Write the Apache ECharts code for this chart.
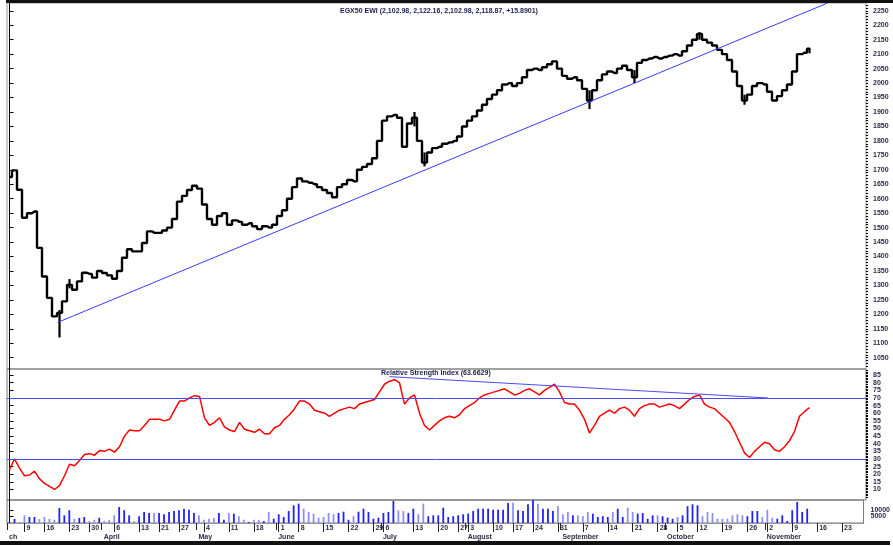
<!DOCTYPE html>
<html>
<head>
<meta charset="utf-8">
<script src="https://cdn.jsdelivr.net/npm/echarts@6/dist/echarts.min.js"></script>
<style>
html, body { margin: 0; padding: 0; background: #fff; }
#main { width: 893px; height: 546px; }
</style>
</head>
<body>
<div id="main"></div>
<script>
// daily closes, one per trading day
var closes = [
    1675, 1698, 1631, 1534, 1550, 1556, 1430, 1331, 1257, 1193,
    1205, 1245, 1302, 1285, 1314, 1344, 1340, 1327, 1350, 1343,
    1335, 1323, 1350, 1396, 1425, 1418, 1418, 1447, 1487, 1482,
    1482, 1490, 1500, 1530, 1590, 1610, 1630, 1645, 1635, 1580,
    1530, 1510, 1540, 1550, 1510, 1525, 1520, 1510, 1515, 1505,
    1495, 1505, 1500, 1510, 1540, 1560, 1600, 1640, 1670, 1660,
    1655, 1650, 1640, 1630, 1620, 1605, 1640, 1650, 1665, 1660,
    1700, 1710, 1720, 1740, 1800, 1870, 1885, 1890, 1880, 1780,
    1860, 1880, 1800, 1725, 1760, 1775, 1780, 1790, 1795, 1800,
    1815, 1850, 1870, 1885, 1905, 1925, 1945, 1960, 1975, 1995,
    2000, 1990, 2000, 2020, 2045, 2050, 2045, 2055, 2065, 2075,
    2050, 2025, 2015, 2020, 2010, 1980, 1940, 1975, 2010, 2030,
    2040, 2035, 2050, 2060, 2045, 2020, 2070, 2080, 2085, 2090,
    2085, 2090, 2095, 2100, 2095, 2110, 2130, 2150, 2170, 2150,
    2140, 2130, 2115, 2100, 2080, 2040, 1990, 1940, 1960, 1990,
    2000, 1995, 1970, 1940, 1955, 1975, 1995, 2040, 2100, 2105,
    2119
];

// days whose high/low sticks out of the step line: [day, low, high]
var ranges = [
    [10, 1120, 1215], [12, 1290, 1322], [81, 1850, 1900], [83, 1712, 1760],
    [116, 1910, 1975], [125, 2000, 2045], [138, 2150, 2176], [147, 1925, 1960],
    [160, 2103, 2122]
];

var rsi = [
    23, 30, 24, 19, 19.5, 22, 17, 14, 12, 10,
    12.5, 19, 26.5, 25.5, 29, 33, 33.5, 32.5, 35.5, 35,
    36.5, 34.5, 38, 45, 49, 48.5, 48.5, 52, 56, 56,
    56, 55, 56, 62, 68, 68, 70, 71.5, 71, 57,
    52, 54, 57, 51, 49, 48, 54, 49.5, 48.5, 47.5,
    49.5, 46.5, 46.5, 50.5, 52, 56, 59, 63, 68, 68,
    66, 62, 61, 60, 58, 60, 62, 63, 64, 63,
    66, 67, 68, 69, 74, 79, 81, 82, 80, 66,
    70, 72, 60, 52, 49, 52, 55, 57, 58, 57,
    59, 63, 65, 67, 70, 72, 73, 74, 75, 76,
    74, 72, 73, 75, 76, 74, 72, 75, 77, 79,
    74, 67, 66, 66, 62, 56, 47, 52, 58, 60,
    62, 60, 63, 64, 62, 58, 63, 65, 66, 66,
    64, 65, 66, 65, 63, 66, 69, 71, 72, 66,
    64, 63, 60, 57, 54, 48, 41, 34, 31, 35,
    38, 41, 40, 36, 35, 38, 42, 48, 58, 61,
    63.66
];

var volume = [
    800, 3100, 800, 5900, 4600, 4600, 3100, 4600, 3100, 2500,
    11600, 5900, 9800, 3300, 3900, 4600, 1500, 2500, 4100, 1500,
    2500, 5900, 12300, 9800, 5900, 1500, 5200, 8500, 7700, 7700,
    7700, 6700, 8500, 9200, 9800, 11000, 10200, 7700, 5900, 2500,
    3300, 3900, 7700, 2500, 7700, 7200, 5200, 2500, 800, 2500,
    2500, 1500, 8500, 3300, 6700, 4600, 9200, 13600, 14900,
    11000, 8500, 7200, 4100, 4600, 7700, 6700, 7700, 8700, 2500,
    5200, 8700, 11000, 8500, 3300, 4100, 7700, 8500, 16900, 9800,
    9200, 7700, 11000, 6700, 14900, 5200, 5900, 5900, 11800,
    4600, 5200, 5900, 6700, 7200, 9200, 11000, 11000, 11000, 10200,
    10200, 10200, 15400, 15600, 9800, 9200, 14400, 17900, 14900,
    11000, 11000, 9200, 12900, 6700, 8500, 5900, 5900, 5400, 8500,
    7200,
    4600, 5200, 4600, 8500, 11000, 4600, 11800, 8500, 7200, 7700,
    3300, 5900, 5900, 5200, 4100, 3300, 4600, 5900, 12900, 14400,
    13600, 5200, 8500, 7700, 3300, 3300, 3300, 5900, 6700, 5900,
    5200, 9200, 9200, 4600, 10200, 4100, 3300, 5900, 1500, 9800,
    16200, 8500, 11000
];

// first trading day of each week (day index) and its date
var weekTicks = [3, 7, 12, 16, 21, 26, 30, 34, 39, 44, 49, 54, 58, 63, 68, 73, 75, 81, 86, 90,
                 92, 97, 101, 105, 110, 115, 120, 125, 130, 134, 138, 143, 148, 152, 157, 162, 167];
var weekLabels = ['9', '16', '23', '30', '6', '13', '21', '27', '4', '11', '18', '1', '8', '15', '22', '29', '6', '13', '20', '27',
                  '3', '10', '17', '24', '31', '7', '14', '21', '28', '5', '12', '19', '26', '2', '9', '16', '23'];
var monthTicks = [-0.5, 18.5, 37.5, 53.5, 74.5, 91.5, 110.5, 131.5, 151.5];
var monthLabels = ['ch', 'April', 'May', 'June', 'July', 'August', 'September', 'October', 'November'];

var priceTicks = [1050, 1100, 1150, 1200, 1250, 1300, 1350, 1400, 1450, 1500, 1550, 1600, 1650,
                  1700, 1750, 1800, 1850, 1900, 1950, 2000, 2050, 2100, 2150, 2200, 2250];
var rsiTicks = [10, 15, 20, 25, 30, 35, 40, 45, 50, 55, 60, 65, 70, 75, 80, 85];
var volTicks = [10000];
var volTicksLow = [5000];
var rsiBands = [70, 30];

var priceTrend = [[9.6, 1172], [163.5, 2276]];
var rsiTrend = [[76, 84], [151.7, 70]];

var titleText = 'EGX50 EWI (2,102.98, 2,122.16, 2,102.98, 2,118.87, +15.8901)';
var rsiTitle = 'Relative Strength Index (63.6629)';

var myChart = echarts.init(document.getElementById('main'));

var xMin = -0.5, xMax = 171.3;
var labelFont = { fontSize: 7, fontWeight: 'bold', color: '#2b2b45', fontFamily: 'Liberation Sans' };

function minorTicks(from, to, step) {
    var out = [];
    for (var v = from; v <= to; v += step) out.push(v);
    return out;
}

function rightAxis(grid, min, max, ticks, showLabel) {
    return {
        gridIndex: grid,
        type: 'value',
        position: 'right',
        min: min,
        max: max,
        axisLine: { show: showLabel, lineStyle: { color: '#000', width: 1 } },
        axisTick: { show: true, customValues: ticks, length: showLabel ? 4 : 2, lineStyle: { color: '#000' } },
        axisLabel: Object.assign({
            show: showLabel, customValues: ticks, margin: 7, hideOverlap: false,
            formatter: function (v) { return String(v); }
        }, labelFont),
        splitLine: { show: false }
    };
}

var volData = volume.map(function (v, i) {
    var up = i === 0 || closes[i] >= closes[i - 1];
    return { value: [i, v], itemStyle: { color: up ? '#2222f5' : '#8f8ff5' } };
});

option = {
    animation: false,
    backgroundColor: '#fff',
    title: {
        text: titleText,
        left: 335,
        top: 3,
        textStyle: { fontSize: 7, fontWeight: 'bold', color: '#1c1c50', fontFamily: 'Liberation Sans' }
    },
    graphic: [
        { type: 'rect', shape: { x: 6, y: 0, width: 887, height: 3 }, style: { fill: '#111' } },
        { type: 'rect', shape: { x: 0, y: 541, width: 890, height: 4 }, style: { fill: '#111' } },
        { type: 'text', left: 381, top: 370, style: { text: rsiTitle, fontSize: 7, fontWeight: 'bold', fill: '#1c1c50', fontFamily: 'Liberation Sans' } }
    ],
    grid: [
        { left: 7, right: 27, top: 3, height: 366, show: true, borderColor: '#999', borderWidth: 1 },
        { left: 7, right: 27, top: 369, height: 131, show: true, borderColor: '#777', borderWidth: 1 },
        { left: 7, right: 27, top: 500, height: 23, show: true, borderColor: '#777', borderWidth: 1 }
    ],
    xAxis: [
        { gridIndex: 0, type: 'value', min: xMin, max: xMax, show: false },
        { gridIndex: 1, type: 'value', min: xMin, max: xMax, show: false },
        {
            gridIndex: 2, type: 'value', min: xMin, max: xMax,
            axisLine: { show: true, lineStyle: { color: '#999' } },
            axisTick: { customValues: weekTicks, length: 9, lineStyle: { color: '#222' } },
            axisLabel: Object.assign({
                customValues: weekTicks, margin: 2, align: 'left', padding: [0, 0, 0, 2], hideOverlap: false,
                formatter: function (v) {
                    var k = weekTicks.indexOf(v);
                    return k < 0 ? '' : weekLabels[k];
                }
            }, labelFont),
            splitLine: { show: false }
        },
        {
            gridIndex: 2, type: 'value', min: xMin, max: xMax, position: 'bottom', offset: 10,
            axisLine: { show: true, lineStyle: { color: '#999' } },
            axisTick: { customValues: monthTicks, length: 7, lineStyle: { color: '#222' } },
            axisLabel: Object.assign({
                customValues: monthTicks, margin: 1, align: 'left', padding: [0, 0, 0, 2], hideOverlap: false,
                formatter: function (v) {
                    var k = monthTicks.indexOf(v);
                    return k < 0 ? '' : monthLabels[k];
                }
            }, labelFont),
            splitLine: { show: false }
        }
    ],
    yAxis: [
        rightAxis(0, 1011, 2277, priceTicks, true),
        rightAxis(0, 1011, 2277, minorTicks(1020, 2270, 10), false),
        rightAxis(1, 3.1, 89, rsiTicks, true),
        rightAxis(1, 3.1, 89, minorTicks(5, 88, 1), false),
        rightAxis(2, 0, 17700, volTicks, true),
        rightAxis(2, 0, 17700, volTicksLow, true)
    ],
    series: [
        {
            name: 'EGX50 EWI',
            type: 'line',
            xAxisIndex: 0,
            yAxisIndex: 0,
            step: 'middle',
            showSymbol: false,
            lineStyle: { color: '#000', width: 2.4 },
            data: closes.map(function (v, i) { return [i, v]; }),
            markLine: {
                silent: true,
                symbol: 'none',
                label: { show: false },
                lineStyle: { color: '#3a3aff', width: 1, type: 'solid' },
                data: [[{ coord: priceTrend[0] }, { coord: priceTrend[1] }]]
            }
        },
        {
            name: 'Range',
            type: 'custom',
            xAxisIndex: 0,
            yAxisIndex: 0,
            encode: { x: 0, y: [1, 2] },
            renderItem: function (params, api) {
                var a = api.coord([api.value(0), api.value(1)]);
                var b = api.coord([api.value(0), api.value(2)]);
                return {
                    type: 'line',
                    shape: { x1: a[0], y1: a[1], x2: b[0], y2: b[1] },
                    style: { stroke: '#000', lineWidth: 2.2 }
                };
            },
            data: ranges
        },
        {
            name: 'RSI',
            type: 'line',
            xAxisIndex: 1,
            yAxisIndex: 2,
            showSymbol: false,
            lineStyle: { color: '#ff0000', width: 1.5 },
            data: rsi.map(function (v, i) { return [i, v]; }),
            markLine: {
                silent: true,
                symbol: 'none',
                label: { show: false },
                lineStyle: { color: '#4a4aff', width: 1, type: 'solid' },
                data: rsiBands.map(function (b) { return { yAxis: b }; }).concat([
                    [{ coord: rsiTrend[0] }, { coord: rsiTrend[1] }]
                ])
            }
        },
        {
            name: 'Volume',
            type: 'bar',
            xAxisIndex: 2,
            yAxisIndex: 4,
            barWidth: 1.8,
            data: volData
        }
    ]
};
myChart.setOption(option);
</script>
</body>
</html>
